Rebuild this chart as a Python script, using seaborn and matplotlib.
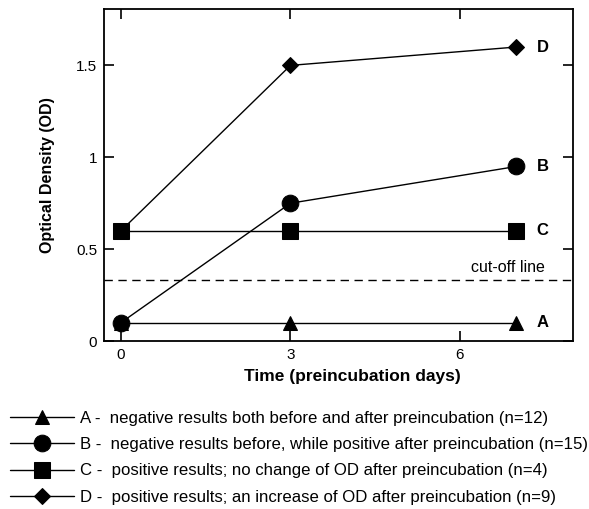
import matplotlib
matplotlib.use("Agg")
import matplotlib.pyplot as plt
import pandas as pd
import seaborn as sns
from matplotlib.ticker import FuncFormatter

days = [0, 3, 7]
od_a = [0.1, 0.1, 0.1]
od_b = [0.1, 0.75, 0.95]
od_c = [0.6, 0.6, 0.6]
od_d = [0.6, 1.5, 1.6]
cutoff = 0.33

groups = ["A", "B", "C", "D"]
legend_labels = [
    "A -  negative results both before and after preincubation (n=12)",
    "B -  negative results before, while positive after preincubation (n=15)",
    "C -  positive results; no change of OD after preincubation (n=4)",
    "D -  positive results; an increase of OD after preincubation (n=9)",
]
markers = {"A": "^", "B": "o", "C": "s", "D": "D"}
msizes = {"A": 10, "B": 12, "C": 12, "D": 8}


def main():
    df = pd.concat(
        [
            pd.DataFrame({"day": days, "od": vals, "group": g})
            for g, vals in zip(groups, [od_a, od_b, od_c, od_d])
        ]
    )

    sns.set_theme(style="ticks")
    plt.rcParams["font.family"] = ["Liberation Sans", "DejaVu Sans"]
    plt.rcParams["text.color"] = "black"
    plt.rcParams["axes.labelcolor"] = "black"

    fig = plt.figure(figsize=(5.89, 5.09), dpi=100)
    ax = fig.add_axes([0.1766, 0.33, 0.7962, 0.652])

    handles = []
    for g in groups:
        sub = df[df["group"] == g]
        sns.lineplot(
            data=sub, x="day", y="od", ax=ax, color="black", marker=markers[g],
            markersize=msizes[g], markeredgecolor="black", linewidth=1.0, legend=False,
        )
        handles.append(ax.lines[-1])
        last = sub.iloc[-1]
        ax.text(last["day"] + 0.36, last["od"], g, fontsize=12, fontweight="bold",
                va="center", ha="left")

    ax.axhline(cutoff, color="black", linewidth=1.0, linestyle=(0, (6, 4)))
    ax.text(6.85, cutoff + 0.07, "cut-off line", fontsize=11.5, ha="center", va="center")

    ax.set_xlim(-0.3, 8.0)
    ax.set_ylim(0, 1.806)
    ax.set_xticks([0, 3, 6])
    ax.set_yticks([0, 0.5, 1, 1.5])
    ax.yaxis.set_major_formatter(FuncFormatter(lambda v, p: f"{v:g}"))
    ax.tick_params(direction="in", length=7, width=1.2, top=True, right=True,
                   labelsize=11, colors="black", pad=5)
    for s in ax.spines.values():
        s.set_linewidth(1.3)
        s.set_color("black")

    ax.set_xlabel("Time (preincubation days)", fontsize=12.5, fontweight="bold")
    ax.set_ylabel("Optical Density (OD)", fontsize=11.5, fontweight="bold")
    ax.xaxis.set_label_coords(0.529, -0.085)
    ax.yaxis.set_label_coords(-0.105, 0.5)

    fig.legend(
        handles, legend_labels, loc="upper left", bbox_to_anchor=(0.017, 0.192),
        frameon=False, fontsize=12.1, handlelength=3.8, handletextpad=0.37,
        labelspacing=0.66, borderaxespad=0.0, borderpad=0.0,
    )

    fig.savefig("out.png", dpi=100)


if __name__ == "__main__":
    main()
